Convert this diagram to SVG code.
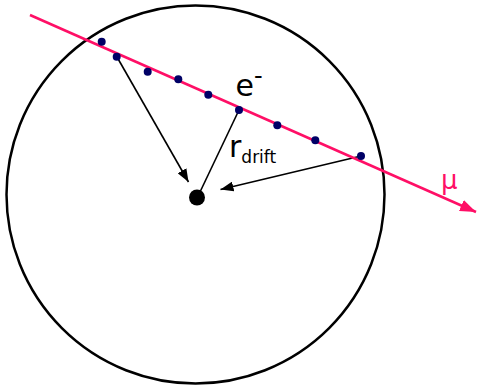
<svg xmlns="http://www.w3.org/2000/svg" width="477" height="388" viewBox="0 0 477 388">
<defs>
<style>
.conn{stroke:#000;stroke-width:1.6;fill:none}
.dot{fill:#000066}
.t{font-family:"DejaVu Sans",sans-serif;fill:#000}
</style>
<marker id="ah" viewBox="0 0 13 10" refX="13" refY="5" markerWidth="13" markerHeight="10" markerUnits="userSpaceOnUse" orient="auto"><path d="M0,0 L13,5 L0,10 Z" fill="#000"/></marker>
<marker id="ahr" viewBox="0 0 16 12" refX="16" refY="6" markerWidth="16" markerHeight="12" markerUnits="userSpaceOnUse" orient="auto"><path d="M0,0 L16,6 L0,12 Z" fill="#FF0F66"/></marker>
</defs>
<rect width="477" height="388" fill="#fff"/>
<g id="chamber"><circle cx="195.5" cy="194.5" r="189" fill="none" stroke="#000" stroke-width="2.5"/></g>
<g id="wire"><circle cx="197" cy="197.5" r="8" fill="#000"/></g>
<g id="connectors">
<line class="conn" x1="117" y1="57" x2="188.5" y2="182" marker-end="url(#ah)"/>
<line class="conn" x1="361" y1="156" x2="220.5" y2="189.5" marker-end="url(#ah)"/>
<line class="conn" x1="239" y1="110" x2="200" y2="192"/>
</g>
<g id="muon">
<line x1="30" y1="15" x2="476" y2="212" stroke="#FF0F66" stroke-width="2.5" marker-end="url(#ahr)"/>
<text x="441" y="189" font-family="DejaVu Sans,sans-serif" font-size="26" fill="#FF0F66">μ</text>
</g>
<g id="electrons">
<circle class="dot" cx="101.7" cy="41.7" r="4"/>
<circle class="dot" cx="116.7" cy="56.7" r="4"/>
<circle class="dot" cx="147.7" cy="71.7" r="4"/>
<circle class="dot" cx="178.3" cy="79.3" r="4"/>
<circle class="dot" cx="208.3" cy="94.7" r="4"/>
<circle class="dot" cx="239" cy="110" r="4"/>
<circle class="dot" cx="277.3" cy="125.3" r="4"/>
<circle class="dot" cx="315.3" cy="140.3" r="4"/>
<circle class="dot" cx="361" cy="156" r="4"/>
</g>
<g id="labels">
<text class="t" x="235.5" y="95.5" font-size="30">e<tspan font-size="24" dy="-12">-</tspan></text>
<text class="t" x="229" y="157" font-size="30">r<tspan font-size="17" dy="6">drift</tspan></text>
</g>
</svg>
